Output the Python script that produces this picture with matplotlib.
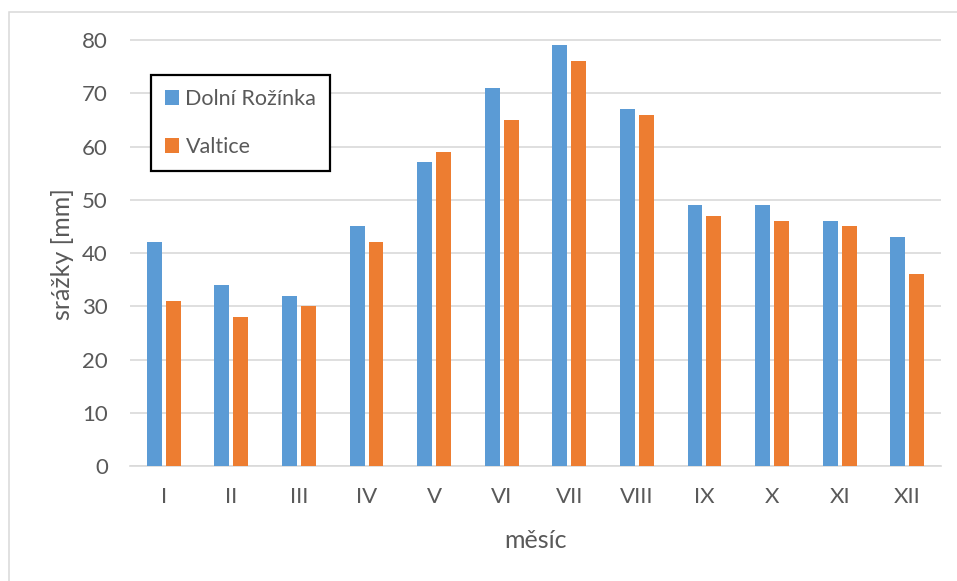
import matplotlib
matplotlib.use("Agg")
import matplotlib.pyplot as plt
from matplotlib.patches import Rectangle
import numpy as np

months = ["I", "II", "III", "IV", "V", "VI", "VII", "VIII", "IX", "X", "XI", "XII"]
dolni_rozinka = [42, 34, 32, 45, 57, 71, 79, 67, 49, 49, 46, 43]
valtice = [31, 28, 30, 42, 59, 65, 76, 66, 47, 46, 45, 36]
y_ticks = [0, 10, 20, 30, 40, 50, 60, 70, 80]

W, H = 957, 581
plt.rcParams["font.family"] = ["Lato", "DejaVu Sans"]
text_color = "#595959"
grid_color = "#D9D9D9"

fig = plt.figure(figsize=(W / 100, H / 100), dpi=100)

# light outer chart frame
fig.patches.append(Rectangle((9 / W, -0.1), 2.0, (H - 12) / H + 0.1,
                             transform=fig.transFigure, fill=False,
                             edgecolor=grid_color, linewidth=1.1))

left, right = 130 / W, 941 / W
bottom = (H - 466) / H
ymax = 80.4
top_px = 466 - (466 - 40) * ymax / 80
ax = fig.add_axes([left, bottom, right - left, (466 - top_px) / H])

x = np.arange(len(months))
bw = 0.22
off = 0.14
ax.bar(x - off, dolni_rozinka, bw, color="#5B9BD5", label="Dolní Rožínka", zorder=3)
ax.bar(x + off, valtice, bw, color="#ED7D31", label="Valtice", zorder=3)

ax.set_xlim(-0.5, len(months) - 0.5)
ax.set_ylim(0, ymax)
ax.set_yticks(y_ticks)
ax.set_xticks(x)
ax.set_xticklabels(months)
ax.yaxis.grid(True, color=grid_color, linewidth=1.2, zorder=0)
ax.set_axisbelow(True)
for s in ["top", "right", "left"]:
    ax.spines[s].set_visible(False)
ax.spines["bottom"].set_color(grid_color)
ax.spines["bottom"].set_linewidth(1.2)
ax.tick_params(axis="both", length=0, labelsize=16, colors=text_color)
ax.tick_params(axis="x", pad=15)
ax.tick_params(axis="y", pad=16)

fig.text(536 / W, 1 - 541 / H, "měsíc", ha="center", va="center",
         fontsize=18, color=text_color)
fig.text(63 / W, 1 - 254 / H, "srážky [mm]", ha="center", va="center",
         rotation=90, fontsize=18, color=text_color)

leg = ax.legend(loc="upper left", bbox_to_anchor=(151 / W, 1 - 75 / H),
                bbox_transform=fig.transFigure, borderaxespad=0,
                fontsize=15.5, frameon=True, fancybox=False,
                handlelength=0.65, handleheight=0.65, handletextpad=0.3,
                labelspacing=1.3, borderpad=0.65, labelcolor=text_color)
leg.get_frame().set_edgecolor("black")
leg.get_frame().set_linewidth(1.6)
leg.get_frame().set_alpha(1)

fig.savefig("out.png", dpi=100)
